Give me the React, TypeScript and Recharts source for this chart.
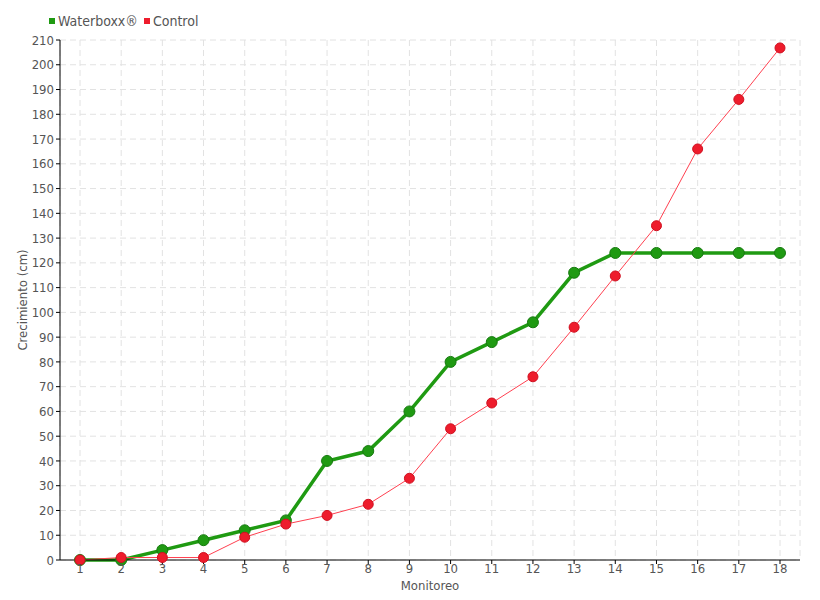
import React from "react";
import {
  LineChart,
  Line,
  XAxis,
  YAxis,
  CartesianGrid,
} from "recharts";

const monitoreo = ["1", "2", "3", "4", "5", "6", "7", "8", "9", "10", "11", "12", "13", "14", "15", "16", "17", "18"];
const waterboxx = [0, 0, 4, 8, 12, 16, 40, 44, 60, 80, 88, 96, 116, 124, 124, 124, 124, 124];
const control = [0, 1, 1, 1, 9.2, 14.5, 18, 22.5, 33, 53, 63.4, 74, 94, 114.7, 135, 166, 186, 206.8];
const yTicks = [0, 10, 20, 30, 40, 50, 60, 70, 80, 90, 100, 110, 120, 130, 140, 150, 160, 170, 180, 190, 200, 210];

const rows = monitoreo.map((m, i) => ({
  m,
  waterboxx: waterboxx[i],
  control: control[i],
}));

const FONT = "'DejaVu Sans Condensed', 'Liberation Sans Narrow', sans-serif";
const GREEN = "#1f9a12";
const RED = "#ee1c2c";

function Legend() {
  const item = (color: string, label: string) => (
    <span style={{ display: "inline-flex", alignItems: "center", marginRight: 6 }}>
      <span style={{ width: 6, height: 6, background: color, marginRight: 3, display: "inline-block" }} />
      {label}
    </span>
  );
  return (
    <div
      style={{
        position: "absolute",
        left: 49,
        top: 13,
        fontFamily: FONT,
        fontSize: 14,
        color: "#555",
        display: "flex",
      }}
    >
      {item(GREEN, "Waterboxx®")}
      {item(RED, "Control")}
    </div>
  );
}

export default function App() {
  const tick = { fontFamily: FONT, fontSize: 13, fill: "#555" };
  return (
    <div style={{ position: "absolute", left: 0, top: 0, width: 820, height: 600, background: "#fff" }}>
      <Legend />
      <LineChart
        width={820}
        height={600}
        data={rows}
        margin={{ top: 40, right: 20, left: 0, bottom: 0 }}
      >
        <CartesianGrid stroke="#e2e2e2" strokeDasharray="6 4" />
        <XAxis
          dataKey="m"
          height={40}
          padding={{ left: 20, right: 20 }}
          stroke="#000"
          tickSize={4}
          tickMargin={0}
          tick={tick}
          label={{ value: "Monitoreo", position: "insideBottom", offset: 10, style: { ...tick } }}
        />
        <YAxis
          width={60}
          domain={[0, 210]}
          ticks={yTicks}
          interval={0}
          stroke="#000"
          tickSize={4}
          tick={tick}
          label={{ value: "Crecimiento (cm)", angle: -90, position: "insideLeft", offset: 22, style: { ...tick, textAnchor: "middle" } }}
        />
        <Line
          dataKey="waterboxx"
          stroke={GREEN}
          strokeWidth={3.5}
          dot={{ r: 5.5, fill: GREEN, stroke: "#177a10", strokeWidth: 1 }}
          isAnimationActive={false}
        />
        <Line
          dataKey="control"
          stroke="#ff4050"
          strokeWidth={1}
          dot={{ r: 5, fill: RED, stroke: "#d01020", strokeWidth: 1 }}
          isAnimationActive={false}
        />
      </LineChart>
    </div>
  );
}
